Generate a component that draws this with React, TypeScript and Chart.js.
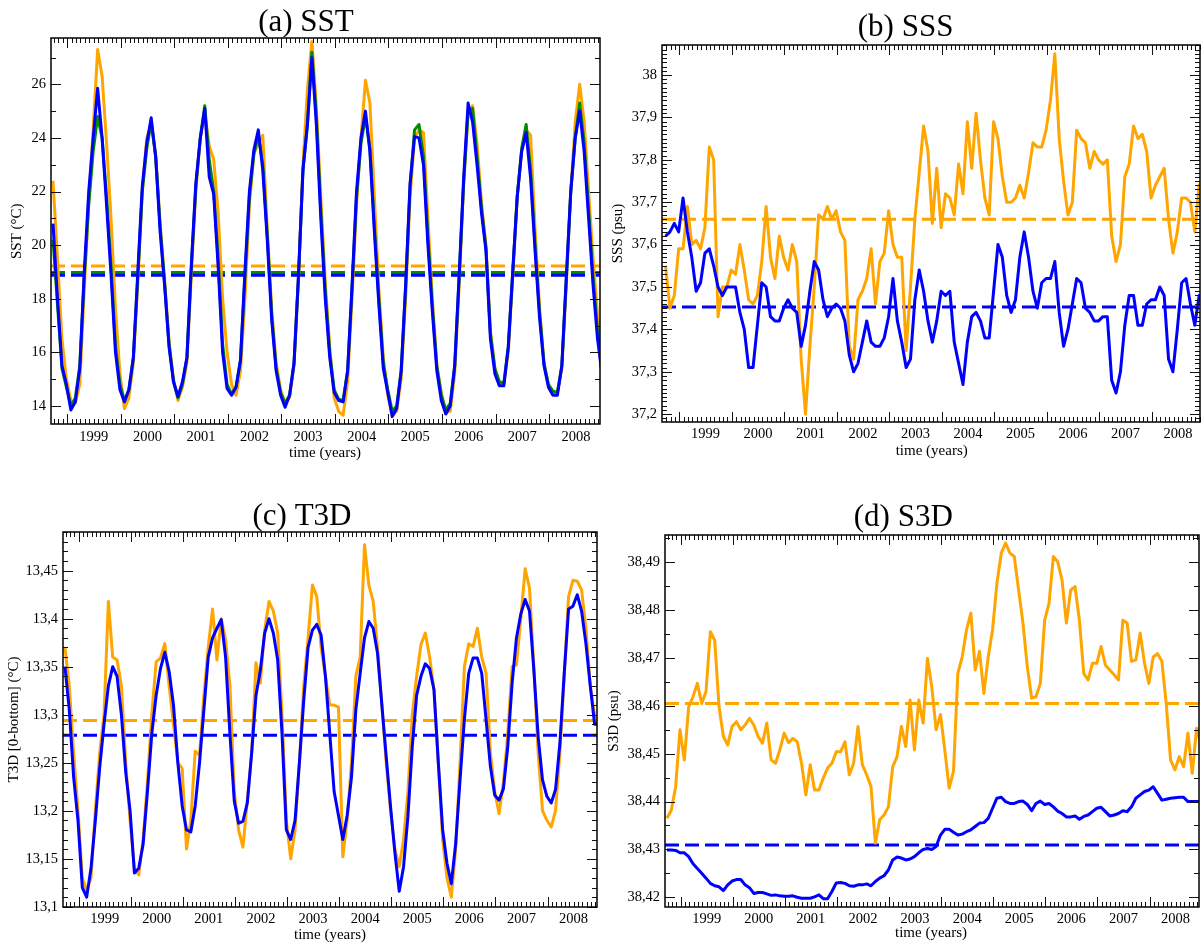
import React, { useEffect, useRef } from "react";
import { Chart, registerables } from "chart.js";

Chart.register(...registerables);

// ---------- data ----------
const FIRST_SAMPLE = 1998.2375; // time (years) of the first monthly sample
const YEAR_LABELS = [1999, 2000, 2001, 2002, 2003, 2004, 2005, 2006, 2007, 2008];

const SST_TICKS = [14, 16, 18, 20, 22, 24, 26];
const SSS_TICKS = [37.2, 37.3, 37.4, 37.5, 37.6, 37.7, 37.8, 37.9, 38.0];
const T3D_TICKS = [13.1, 13.15, 13.2, 13.25, 13.3, 13.35, 13.4, 13.45];
const S3D_TICKS = [38.42, 38.43, 38.44, 38.45, 38.46, 38.47, 38.48, 38.49];

const SST_ORANGE = [
  22.4, 19.5, 16.5, 15.0, 14.2, 14.1, 14.8, 18.3, 21.6, 24.3,
  27.3, 26.3, 23.8, 21.0, 17.6, 15.2, 13.9, 14.3, 15.6, 18.6,
  22.0, 24.0, 24.5, 23.4, 20.8, 18.7, 16.4, 15.0, 14.2, 14.7,
  15.6, 18.9, 22.0, 24.0, 24.9, 23.7, 23.2, 21.2, 18.0, 16.0,
  14.8, 14.4, 15.3, 18.0, 21.5, 23.4, 23.8, 24.1, 20.6, 17.6,
  15.6, 14.6, 14.1, 14.3, 15.5, 18.7, 23.0, 25.8, 27.6, 25.2,
  21.8, 18.6, 16.2, 14.3, 13.8, 13.65, 14.9, 18.0, 21.5, 24.0,
  26.15, 25.3, 21.8, 18.4, 15.8, 14.4, 13.65, 13.8, 15.0, 18.0,
  21.8, 24.0, 24.3, 24.2, 21.0, 18.0, 15.5, 14.5, 13.75, 13.8,
  15.2, 18.5, 22.3, 24.9, 25.2, 23.8, 21.6, 20.0, 16.8, 15.4,
  14.8, 14.8, 16.0, 18.8, 21.8, 23.5, 24.3, 24.1, 20.6, 17.7,
  15.6, 14.8, 14.5, 14.5, 15.4, 18.5, 22.0, 24.6, 26.0, 24.6,
  22.0, 19.5, 17.4, 16.4,
];
const SST_GREEN = [
  20.2, 17.8, 15.4, 14.7, 14.0, 14.3, 15.5, 18.8, 21.5, 23.5,
  24.8, 24.0, 21.8, 19.2, 16.2, 14.8, 14.2, 14.6, 15.8, 18.8,
  22.0, 23.6, 24.6, 23.3, 20.7, 18.6, 16.3, 14.9, 14.3, 14.8,
  15.8, 19.2, 22.2, 24.0, 25.2, 23.2, 22.0, 19.5, 16.3, 14.8,
  14.45, 14.7, 15.7, 18.8, 21.8, 23.4, 24.1, 23.0, 20.4, 17.4,
  15.4, 14.5, 14.1, 14.4, 15.6, 18.8, 22.8, 24.5, 27.2, 24.8,
  21.3, 18.3, 16.0, 14.6, 14.25, 14.2, 15.3, 18.4, 21.8, 23.8,
  24.8, 23.6, 20.7, 18.0, 15.6, 14.6, 13.8, 14.0, 15.3, 18.4,
  22.2, 24.3, 24.5, 23.3, 20.3, 17.7, 15.5, 14.4, 13.85, 14.1,
  15.5, 18.8, 22.3, 25.0, 25.1, 23.3, 21.4, 19.9, 16.7, 15.4,
  14.9, 14.85, 16.2, 19.0, 21.8, 23.6, 24.5, 22.8, 20.0, 17.5,
  15.6, 14.8, 14.55, 14.5, 15.5, 18.7, 22.0, 24.0, 25.3, 23.8,
  21.3, 18.8, 16.8, 15.6,
];
const SST_BLUE = [
  20.8, 18.0, 15.5, 14.8, 13.85, 14.15, 15.4, 19.0, 22.0, 24.0,
  25.85, 24.0, 21.5, 18.9, 16.0, 14.6, 14.15, 14.6, 15.8, 19.0,
  22.2, 23.8, 24.75, 23.3, 20.5, 18.5, 16.2, 14.9, 14.35, 14.9,
  15.8, 19.3, 22.3, 24.0, 25.1, 22.55, 21.9, 19.2, 16.0, 14.65,
  14.4, 14.7, 15.7, 19.0, 22.0, 23.55, 24.3, 22.8, 20.2, 17.2,
  15.3, 14.4, 13.95, 14.4, 15.6, 18.9, 22.8, 24.5, 27.0, 24.5,
  21.0, 18.0, 15.8, 14.5, 14.2, 14.15, 15.3, 18.5, 22.0, 24.0,
  25.0, 23.5, 20.5, 17.8, 15.4, 14.5, 13.6, 13.9, 15.3, 18.5,
  22.3, 24.05, 24.0, 23.0, 20.0, 17.5, 15.3, 14.2, 13.7, 14.0,
  15.5, 18.9, 22.5, 25.3, 24.6, 23.0, 21.2, 19.8, 16.5, 15.2,
  14.75, 14.75, 16.2, 19.0, 21.8, 23.5, 24.2, 22.5, 19.8, 17.3,
  15.5, 14.7, 14.4, 14.4, 15.5, 18.8, 22.0, 24.0, 25.0, 23.5,
  21.0, 18.5, 16.5, 15.2,
];
const SST_MEAN_ORANGE = 19.22;
const SST_MEAN_GREEN = 18.98;
const SST_MEAN_BLUE = 18.88;

const SSS_ORANGE = [
  37.55, 37.45, 37.48, 37.59, 37.59, 37.69, 37.60, 37.61, 37.59, 37.64,
  37.83, 37.80, 37.43, 37.50, 37.50, 37.54, 37.53, 37.60, 37.54, 37.47,
  37.46, 37.48, 37.56, 37.69, 37.57, 37.52, 37.62, 37.57, 37.54, 37.60,
  37.56, 37.33, 37.20, 37.36, 37.50, 37.67, 37.66, 37.69, 37.66, 37.68,
  37.63, 37.61, 37.36, 37.33, 37.47, 37.49, 37.52, 37.59, 37.46, 37.56,
  37.58, 37.68, 37.60, 37.57, 37.57, 37.35, 37.50, 37.66, 37.77, 37.88,
  37.82, 37.65, 37.78, 37.64, 37.72, 37.71, 37.67, 37.79, 37.72, 37.89,
  37.78, 37.91, 37.80, 37.71, 37.67, 37.89, 37.85, 37.76, 37.70, 37.70,
  37.71, 37.74, 37.71, 37.77, 37.84, 37.83, 37.83, 37.87, 37.94, 38.05,
  37.85, 37.75, 37.67, 37.70, 37.87, 37.85, 37.84, 37.78, 37.82, 37.80,
  37.79, 37.80, 37.62, 37.56, 37.60, 37.76, 37.79, 37.88, 37.85, 37.86,
  37.82, 37.71, 37.74, 37.76, 37.78, 37.66, 37.58, 37.63, 37.71, 37.71,
  37.70, 37.63, 37.74, 37.75,
];
const SSS_BLUE = [
  37.62, 37.63, 37.65, 37.63, 37.71, 37.63, 37.57, 37.49, 37.51, 37.58,
  37.59, 37.55, 37.50, 37.48, 37.50, 37.50, 37.50, 37.44, 37.40, 37.31,
  37.31, 37.41, 37.51, 37.50, 37.43, 37.42, 37.42, 37.45, 37.47, 37.45,
  37.44, 37.36, 37.41, 37.49, 37.56, 37.54, 37.47, 37.43, 37.45, 37.46,
  37.45, 37.42, 37.34, 37.30, 37.32, 37.37, 37.42, 37.37, 37.36, 37.36,
  37.38, 37.43, 37.52, 37.42, 37.37, 37.31, 37.33, 37.47, 37.54, 37.49,
  37.42, 37.37, 37.42, 37.49, 37.48, 37.49, 37.37, 37.32, 37.27, 37.37,
  37.43, 37.44, 37.42, 37.38, 37.38, 37.49, 37.60, 37.57, 37.48, 37.44,
  37.47, 37.57, 37.63, 37.57, 37.49, 37.45, 37.51, 37.52, 37.52, 37.56,
  37.44, 37.36, 37.40, 37.46, 37.52, 37.51, 37.45, 37.44, 37.42, 37.42,
  37.43, 37.43, 37.28, 37.25, 37.30, 37.41, 37.48, 37.48, 37.41, 37.41,
  37.46, 37.47, 37.47, 37.50, 37.48, 37.33, 37.30, 37.40, 37.51, 37.52,
  37.46, 37.41, 37.48, 37.47,
];
const SSS_MEAN_ORANGE = 37.66;
const SSS_MEAN_BLUE = 37.453;

const T3D_ORANGE = [
  13.37, 13.33, 13.26, 13.2, 13.13, 13.117, 13.13, 13.2, 13.26, 13.3,
  13.418, 13.36, 13.357, 13.33, 13.25, 13.19, 13.14, 13.133, 13.17, 13.23,
  13.3, 13.355, 13.359, 13.374, 13.33, 13.29, 13.25, 13.244, 13.16, 13.19,
  13.262, 13.258, 13.32, 13.37, 13.41, 13.357, 13.4, 13.378, 13.33, 13.22,
  13.18, 13.162, 13.21, 13.26, 13.354, 13.333, 13.388, 13.418, 13.408, 13.385,
  13.3, 13.19, 13.15, 13.18, 13.25, 13.33, 13.38, 13.435, 13.423, 13.37,
  13.34, 13.31, 13.31, 13.308, 13.152, 13.19, 13.25, 13.34, 13.36, 13.477,
  13.435, 13.418, 13.37, 13.31, 13.25, 13.2, 13.16, 13.142, 13.17, 13.22,
  13.3, 13.34, 13.373, 13.385, 13.36, 13.326, 13.25, 13.17, 13.13, 13.11,
  13.16, 13.25, 13.35, 13.374, 13.371, 13.39, 13.36, 13.343, 13.26, 13.22,
  13.197, 13.23, 13.28, 13.35, 13.352, 13.4, 13.452, 13.432, 13.35, 13.26,
  13.2, 13.19, 13.183, 13.2, 13.26, 13.34, 13.423, 13.44, 13.439, 13.43,
  13.39, 13.33, 13.3, 13.29,
];
const T3D_BLUE = [
  13.35, 13.305, 13.235, 13.19, 13.12, 13.11, 13.14, 13.19, 13.245, 13.29,
  13.33, 13.35, 13.34, 13.3, 13.24, 13.2, 13.135, 13.14, 13.165, 13.22,
  13.28, 13.32, 13.348, 13.365, 13.345, 13.31, 13.25, 13.205, 13.18, 13.178,
  13.205, 13.25, 13.305, 13.36, 13.38, 13.39, 13.399, 13.36, 13.28, 13.21,
  13.187, 13.189, 13.208, 13.26, 13.32, 13.346, 13.385, 13.4, 13.385, 13.357,
  13.28, 13.18, 13.17, 13.19, 13.25, 13.315, 13.37, 13.388, 13.394, 13.383,
  13.34, 13.28, 13.22, 13.195, 13.17, 13.195, 13.235, 13.305, 13.343, 13.38,
  13.397, 13.39, 13.364, 13.31, 13.256, 13.204, 13.156, 13.116, 13.142, 13.194,
  13.267, 13.32, 13.34, 13.353, 13.348, 13.326, 13.25, 13.18, 13.145, 13.124,
  13.166, 13.232, 13.295, 13.343, 13.359, 13.359, 13.343, 13.295, 13.246, 13.216,
  13.211, 13.223, 13.267, 13.333, 13.38, 13.405, 13.42, 13.408, 13.347, 13.277,
  13.232, 13.215, 13.208, 13.222, 13.27, 13.343, 13.41, 13.413, 13.425, 13.408,
  13.374, 13.33, 13.29, 13.29,
];
const T3D_MEAN_ORANGE = 13.294;
const T3D_MEAN_BLUE = 13.2785;

const S3D_ORANGE = [
  38.4365, 38.4382, 38.4431, 38.455, 38.4487, 38.4598, 38.4619, 38.4647, 38.4605, 38.463,
  38.4755, 38.4737, 38.4598, 38.4536, 38.4518, 38.4557, 38.4567, 38.455, 38.456, 38.4574,
  38.456, 38.4536, 38.4522, 38.4564, 38.4487, 38.448, 38.4508, 38.4543, 38.4523, 38.4532,
  38.4525, 38.448, 38.4414, 38.4477, 38.4424, 38.4424, 38.4449, 38.447, 38.448, 38.4504,
  38.4504, 38.4525, 38.4456, 38.448, 38.4557, 38.4477, 38.4456, 38.4431, 38.4313, 38.4362,
  38.4372, 38.4389, 38.4473, 38.4494, 38.4557, 38.4515, 38.4612, 38.4508, 38.4612, 38.4564,
  38.4699, 38.464, 38.455, 38.4582, 38.4508, 38.4428, 38.4463, 38.4668, 38.4702, 38.4759,
  38.4794, 38.4675, 38.4714, 38.4626, 38.4702, 38.4759, 38.4856, 38.4919, 38.494, 38.4919,
  38.4912, 38.4842, 38.4773, 38.4682, 38.4616, 38.4619, 38.4647, 38.4779, 38.4814, 38.4912,
  38.4901, 38.4863, 38.4773, 38.4842, 38.4849, 38.4779, 38.4668, 38.4654, 38.4689, 38.4689,
  38.4724, 38.4685, 38.4675, 38.4665, 38.4654, 38.4779, 38.4773, 38.4693, 38.4696, 38.4752,
  38.4689, 38.4647, 38.4702, 38.4709, 38.4693, 38.4605, 38.4487, 38.4466, 38.4494, 38.4473,
  38.4543, 38.4459, 38.4553, 38.452,
];
const S3D_BLUE = [
  38.4299, 38.4299, 38.4298, 38.4293, 38.4293, 38.4285, 38.427, 38.426, 38.425, 38.424,
  38.4229, 38.4224, 38.4222, 38.4214, 38.4226, 38.4234, 38.4237, 38.4237, 38.4226, 38.422,
  38.4208, 38.421, 38.421, 38.4207, 38.4204, 38.4205, 38.4203, 38.4202, 38.4202, 38.4203,
  38.42, 38.4198, 38.4198, 38.4198, 38.4201, 38.4205, 38.4197, 38.4197, 38.4212, 38.423,
  38.4231, 38.4229, 38.4224, 38.4223, 38.4226, 38.4226, 38.4228, 38.4224, 38.4233, 38.424,
  38.4245, 38.4257, 38.4278, 38.4284, 38.4282, 38.4278, 38.428, 38.4285, 38.4293, 38.43,
  38.4302, 38.43, 38.4306, 38.433, 38.4342, 38.4342, 38.4336, 38.433, 38.4332, 38.4337,
  38.4341, 38.4348, 38.4355, 38.4356, 38.4365, 38.4386, 38.4407, 38.4409, 38.44, 38.4396,
  38.4396, 38.44, 38.4401, 38.4394, 38.4381, 38.4396, 38.4401, 38.4394, 38.4396, 38.4389,
  38.438, 38.4375, 38.4368, 38.4368, 38.437, 38.4363, 38.4369, 38.4372, 38.4379, 38.4386,
  38.4388, 38.4379, 38.437, 38.4372, 38.4375, 38.4381, 38.4379, 38.4389, 38.4407, 38.4414,
  38.4421, 38.4424, 38.4431, 38.4417, 38.4403, 38.4405, 38.4407, 38.4408, 38.4409, 38.4409,
  38.44, 38.44, 38.44, 38.44,
];
const S3D_MEAN_ORANGE = 38.4605;
const S3D_MEAN_BLUE = 38.4309;

// ---------- styling / layout ----------
const ORANGE = "#FFA500";
const GREEN = "#008B00";
const BLUE = "#0000FF";
const FONT = "'Liberation Serif', 'Times New Roman', Times, serif";
const TIMES = SST_BLUE.map((_, i) => FIRST_SAMPLE + i / 12);

type Series = { values: number[]; color: string };
type Mean = { value: number; color: string };
type PanelCfg = {
  id: string;
  title: string;
  ylabel: string;
  canvas: { x: number; y: number; w: number; h: number };
  area: { l: number; t: number; r: number; b: number };
  xmin: number; xmax: number; ymin: number; ymax: number;
  yticks: number[]; yMajor: number; yMinor: number;
  xPad: number;
  series: Series[];
  means: Mean[];
  titlePos: [number, number];
  ylabelPos: [number, number];
  xlabelPos: [number, number];
};

const PANELS: PanelCfg[] = [
  {
    id: "a", title: "(a) SST", ylabel: "SST (\u00B0C)",
    canvas: { x: 0, y: 0, w: 601, h: 470 },
    area: { l: 51, t: 38, r: 600, b: 424 },
    xmin: 1998.2, xmax: 2008.45, ymin: 13.325, ymax: 27.728,
    yticks: SST_TICKS, yMajor: 2, yMinor: 1, xPad: 4,
    series: [
      { values: SST_BLUE, color: BLUE },
      { values: SST_GREEN, color: GREEN },
      { values: SST_ORANGE, color: ORANGE },
    ],
    means: [
      { value: SST_MEAN_BLUE, color: BLUE },
      { value: SST_MEAN_GREEN, color: GREEN },
      { value: SST_MEAN_ORANGE, color: ORANGE },
    ],
    titlePos: [306, 30.5], ylabelPos: [17.5, 231.3], xlabelPos: [325, 453.3],
  },
  {
    id: "b", title: "(b) SSS", ylabel: "SSS (psu)",
    canvas: { x: 601, y: 0, w: 600, h: 470 },
    area: { l: 662, t: 45, r: 1200, b: 422 },
    xmin: 1998.17, xmax: 2008.42, ymin: 37.1816, ymax: 38.0708,
    yticks: SSS_TICKS, yMajor: 0.1, yMinor: 0.01, xPad: 3,
    series: [
      { values: SSS_BLUE, color: BLUE },
      { values: SSS_ORANGE, color: ORANGE },
    ],
    means: [
      { value: SSS_MEAN_BLUE, color: BLUE },
      { value: SSS_MEAN_ORANGE, color: ORANGE },
    ],
    titlePos: [905.6, 35.5], ylabelPos: [618, 233.5], xlabelPos: [931.7, 450.7],
  },
  {
    id: "c", title: "(c) T3D", ylabel: "T3D [0-bottom] (\u00B0C)",
    canvas: { x: 0, y: 470, w: 601, h: 474 },
    area: { l: 63, t: 532, r: 597, b: 907 },
    xmin: 1998.2, xmax: 2008.45, ymin: 13.0997, ymax: 13.4903,
    yticks: T3D_TICKS, yMajor: 0.05, yMinor: 0.01, xPad: 3,
    series: [
      { values: T3D_BLUE, color: BLUE },
      { values: T3D_ORANGE, color: ORANGE },
    ],
    means: [
      { value: T3D_MEAN_BLUE, color: BLUE },
      { value: T3D_MEAN_ORANGE, color: ORANGE },
    ],
    titlePos: [302, 525], ylabelPos: [13.8, 719.5], xlabelPos: [330, 935],
  },
  {
    id: "d", title: "(d) S3D", ylabel: "S3D (psu)",
    canvas: { x: 601, y: 470, w: 600, h: 474 },
    area: { l: 665, t: 535, r: 1199, b: 907 },
    xmin: 1998.2, xmax: 2008.45, ymin: 38.41797, ymax: 38.4957,
    yticks: S3D_TICKS, yMajor: 0.01, yMinor: 0.005, xPad: 3,
    series: [
      { values: S3D_BLUE, color: BLUE },
      { values: S3D_ORANGE, color: ORANGE },
    ],
    means: [
      { value: S3D_MEAN_BLUE, color: BLUE },
      { value: S3D_MEAN_ORANGE, color: ORANGE },
    ],
    titlePos: [903.3, 525.5], ylabelPos: [613.8, 721], xlabelPos: [931, 933.3],
  },
];

const fmtComma = (v: number) => String(Math.round(v * 1000) / 1000).replace(".", ",");

function makeDecor(p: PanelCfg) {
  return {
    id: "decor_" + p.id,
    afterDatasetsDraw(chart: any) {
      const ctx: CanvasRenderingContext2D = chart.ctx;
      const a = chart.chartArea;
      const xs = chart.scales.x;
      const ys = chart.scales.y;
      ctx.save();
      ctx.strokeStyle = "#111";
      ctx.lineWidth = 1;
      ctx.beginPath();
      // x ticks: monthly minor, yearly major (mid-year), on bottom and top
      const m0 = Math.ceil((xs.min - 1998.5) * 12 - 1e-6);
      const m1 = Math.floor((xs.max - 1998.5) * 12 + 1e-6);
      for (let m = m0; m <= m1; m++) {
        const px = Math.round(xs.getPixelForValue(1998.5 + m / 12)) + 0.5;
        const len = m % 12 === 0 ? 10 : 5;
        ctx.moveTo(px, a.bottom);
        ctx.lineTo(px, a.bottom - len);
        ctx.moveTo(px, a.top);
        ctx.lineTo(px, a.top + len);
      }
      // y ticks, left and right
      const k0 = Math.ceil(ys.min / p.yMinor - 1e-6);
      const k1 = Math.floor(ys.max / p.yMinor + 1e-6);
      for (let k = k0; k <= k1; k++) {
        const v = k * p.yMinor;
        const r = v / p.yMajor;
        const major = Math.abs(r - Math.round(r)) < 1e-6;
        const py = Math.round(ys.getPixelForValue(v)) + 0.5;
        const len = major ? 10 : 5;
        ctx.moveTo(a.left, py);
        ctx.lineTo(a.left + len, py);
        ctx.moveTo(a.right, py);
        ctx.lineTo(a.right - len, py);
      }
      ctx.stroke();
      ctx.lineWidth = 1.5;
      ctx.strokeStyle = "#000";
      ctx.strokeRect(a.left, a.top, a.right - a.left, a.bottom - a.top);

      // texts
      const ox = p.canvas.x;
      const oy = p.canvas.y;
      ctx.fillStyle = "#000";
      ctx.textAlign = "center";
      ctx.textBaseline = "alphabetic";
      ctx.font = `31px ${FONT}`;
      ctx.fillText(p.title, p.titlePos[0] - ox, p.titlePos[1] - oy);
      ctx.textBaseline = "middle";
      ctx.font = `15px ${FONT}`;
      ctx.fillText("time (years)", p.xlabelPos[0] - ox, p.xlabelPos[1] - oy);
      ctx.save();
      ctx.translate(p.ylabelPos[0] - ox, p.ylabelPos[1] - oy);
      ctx.rotate(-Math.PI / 2);
      ctx.fillText(p.ylabel, 0, 0);
      ctx.restore();
      ctx.restore();
    },
  };
}

function buildConfig(p: PanelCfg): any {
  const yW = p.area.l - p.canvas.x;
  const xH = p.canvas.y + p.canvas.h - p.area.b;
  const datasets: any[] = [];
  p.series.forEach((s, k) => {
    datasets.push({
      data: s.values.map((v, i) => ({ x: TIMES[i], y: v })),
      borderColor: s.color,
      borderWidth: 3,
      borderJoinStyle: "round",
      pointRadius: 0,
      tension: 0,
      fill: false,
      order: k,
    });
  });
  p.means.forEach((m, k) => {
    datasets.push({
      data: [{ x: p.xmin, y: m.value }, { x: p.xmax, y: m.value }],
      borderColor: m.color,
      borderWidth: 3,
      borderDash: [14, 6],
      pointRadius: 0,
      fill: false,
      order: 10 + k,
    });
  });
  const tickFont = { family: FONT, size: 14.5 };
  return {
    type: "line",
    data: { datasets },
    plugins: [makeDecor(p)],
    options: {
      responsive: false,
      maintainAspectRatio: false,
      animation: false,
      devicePixelRatio: 1,
      events: [],
      layout: {
        padding: {
          left: 0,
          top: p.area.t - p.canvas.y,
          right: p.canvas.x + p.canvas.w - p.area.r,
          bottom: 0,
        },
      },
      plugins: { legend: { display: false }, tooltip: { enabled: false }, title: { display: false } },
      scales: {
        x: {
          type: "linear",
          min: p.xmin,
          max: p.xmax,
          grid: { display: false, drawTicks: false },
          border: { display: false },
          afterBuildTicks: (s: any) => {
            s.ticks = YEAR_LABELS.map((v) => ({ value: v }));
          },
          afterFit: (s: any) => {
            s.height = xH;
          },
          ticks: {
            autoSkip: false,
            maxRotation: 0,
            padding: p.xPad,
            color: "#000",
            font: tickFont,
            callback: (v: any) => String(v),
          },
        },
        y: {
          type: "linear",
          min: p.ymin,
          max: p.ymax,
          grid: { display: false, drawTicks: false },
          border: { display: false },
          afterBuildTicks: (s: any) => {
            s.ticks = p.yticks.map((v) => ({ value: v }));
          },
          afterFit: (s: any) => {
            s.width = yW;
          },
          ticks: {
            autoSkip: false,
            padding: 5,
            color: "#000",
            font: tickFont,
            callback: (v: any) => fmtComma(Number(v)),
          },
        },
      },
    },
  };
}

function Panel({ cfg }: { cfg: PanelCfg }) {
  const ref = useRef<HTMLCanvasElement>(null);
  useEffect(() => {
    if (!ref.current) return;
    const chart = new Chart(ref.current, buildConfig(cfg));
    return () => chart.destroy();
  }, [cfg]);
  return (
    <canvas
      ref={ref}
      width={cfg.canvas.w}
      height={cfg.canvas.h}
      style={{
        position: "absolute",
        left: cfg.canvas.x,
        top: cfg.canvas.y,
        width: cfg.canvas.w,
        height: cfg.canvas.h,
      }}
    />
  );
}

export default function App() {
  return (
    <div
      style={{
        position: "absolute",
        left: 0,
        top: 0,
        width: 1201,
        height: 944,
        background: "#fff",
        overflow: "hidden",
      }}
    >
      {PANELS.map((p) => (
        <Panel key={p.id} cfg={p} />
      ))}
    </div>
  );
}
